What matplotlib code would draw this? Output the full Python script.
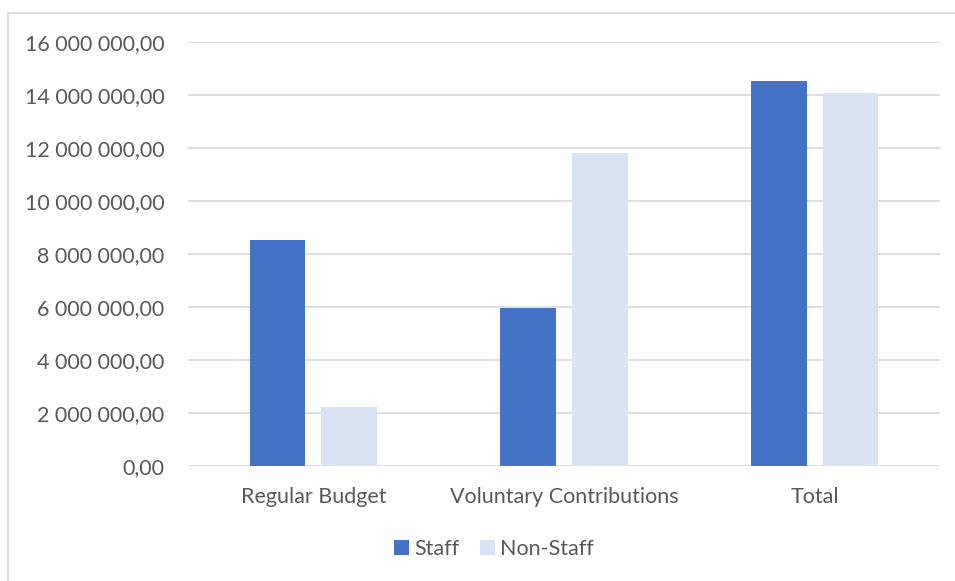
import numpy as np
import matplotlib
matplotlib.use("Agg")
from matplotlib import pyplot as plt
from matplotlib.ticker import FuncFormatter
from matplotlib.lines import Line2D

# data
categories = ["Regular Budget", "Voluntary Contributions", "Total"]
staff = [8530000, 5970000, 14510000]
non_staff = [2220000, 11830000, 14060000]
series_names = ["Staff", "Non-Staff"]

plt.rcParams['font.family'] = ['Lato', 'DejaVu Sans']
text_col = '#595959'
grid_col = '#d9d9d9'
fs = 15.5


# format like "16 000 000,00"
def fmt(v, pos):
    s = f"{v:,.2f}"
    return s.replace(",", " ").replace(".", ",")


fig = plt.figure(figsize=(9.55, 5.81), dpi=100)
ax = fig.add_axes([188 / 955, 115 / 581, 752 / 955, 424 / 581])

x = np.arange(len(categories))
w = 0.223
off = 0.143
ax.bar(x - off, staff, width=w, color='#4472c4', label=series_names[0], zorder=3)
ax.bar(x + off, non_staff, width=w, color='#dae3f3', label=series_names[1], zorder=3)

ax.set_xlim(-0.5, 2.5)
ax.set_ylim(0, 16000000)
ax.set_yticks(np.arange(0, 16000001, 2000000))
ax.yaxis.set_major_formatter(FuncFormatter(fmt))
ax.set_xticks(x)
ax.set_xticklabels(categories)
ax.grid(axis='y', color=grid_col, linewidth=1.2, zorder=0)
for sp in ax.spines.values():
    sp.set_visible(False)
ax.tick_params(length=0, labelsize=fs, colors=text_col)
ax.tick_params(axis='y', pad=17)
ax.tick_params(axis='x', pad=15)

leg = fig.legend(loc='center', bbox_to_anchor=(494 / 955, 1 - 549 / 581), ncol=2,
                 frameon=False, fontsize=fs, handlelength=0.7, handleheight=0.7,
                 handletextpad=0.25, columnspacing=0.95)
for t in leg.get_texts():
    t.set_color(text_col)

# outer chart frame (only top and left edges visible in the crop)
fig.add_artist(Line2D([8 / 955, 8 / 955], [0, 1 - 13 / 581], color=grid_col, lw=1.2))
fig.add_artist(Line2D([8 / 955, 1], [1 - 13 / 581, 1 - 13 / 581], color=grid_col, lw=1.2))

fig.savefig("out.png", dpi=100)
